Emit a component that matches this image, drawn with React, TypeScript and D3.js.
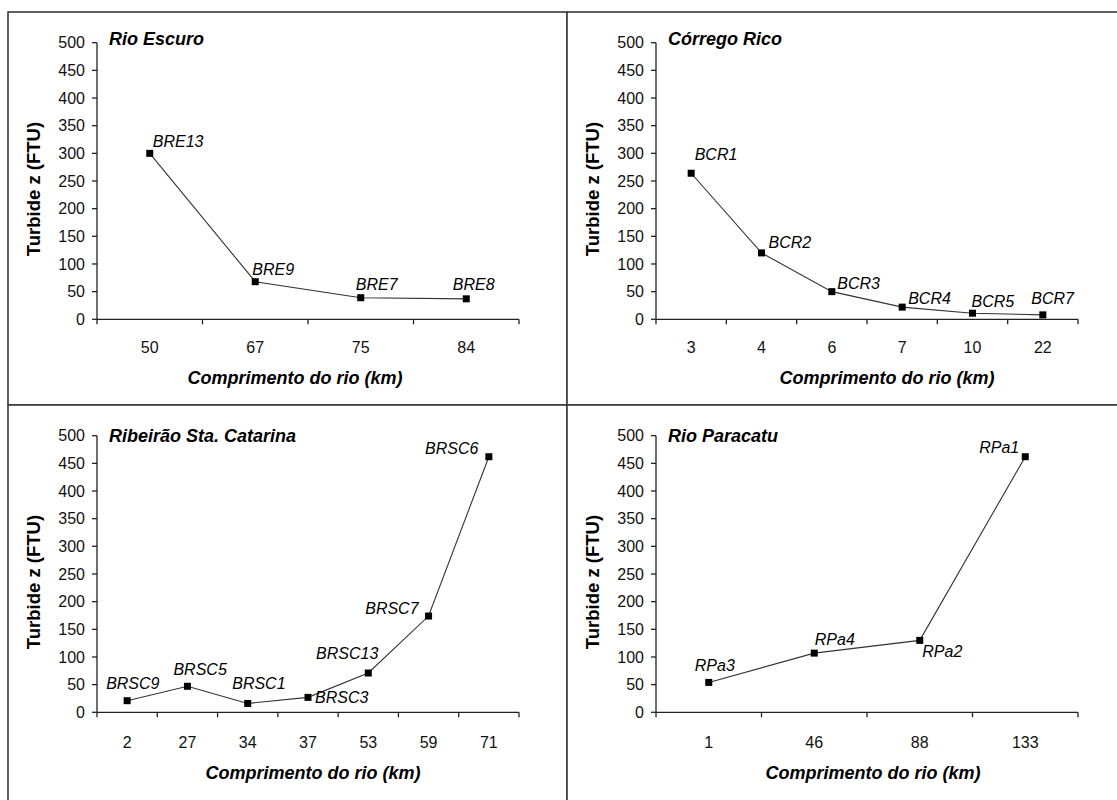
import React from 'react';
import * as d3 from 'd3';

// Turbidity (FTU) along the river length (km) at each sampling site
const escuroKm = ['50', '67', '75', '84'];
const escuroSites = ['BRE13', 'BRE9', 'BRE7', 'BRE8'];
const escuroTurbidity = [300, 68, 39, 37];

const ricoKm = ['3', '4', '6', '7', '10', '22'];
const ricoSites = ['BCR1', 'BCR2', 'BCR3', 'BCR4', 'BCR5', 'BCR7'];
const ricoTurbidity = [264, 120, 50, 22, 11, 8];

const catarinaKm = ['2', '27', '34', '37', '53', '59', '71'];
const catarinaSites = ['BRSC9', 'BRSC5', 'BRSC1', 'BRSC3', 'BRSC13', 'BRSC7', 'BRSC6'];
const catarinaTurbidity = [21, 47, 16, 27, 71, 174, 462];

const paracatuKm = ['1', '46', '88', '133'];
const paracatuSites = ['RPa3', 'RPa4', 'RPa2', 'RPa1'];
const paracatuTurbidity = [54, 107, 130, 462];

const yTicks = [0, 50, 100, 150, 200, 250, 300, 350, 400, 450, 500];
const yDomain: [number, number] = [0, 500];

const xTitle = 'Comprimento do rio (km)';
const yTitle = 'Turbide z (FTU)';

// Site label placement relative to its marker: [dx, dy, anchor]
type Place = [number, number, 'start' | 'end' | 'middle'];
const escuroPlace: Place[] = [[3, -6.5, 'start'], [-3, -6.5, 'start'], [-5, -7.5, 'start'], [-13.5, -8.5, 'start']];
const ricoPlace: Place[] = [[3.5, -13, 'start'], [7, -4.5, 'start'], [5.5, -3, 'start'], [6, -3, 'start'], [-1, -6, 'start'], [-11.5, -10.5, 'start']];
const catarinaPlace: Place[] = [[-21, -12, 'start'], [-14, -11.5, 'start'], [-15.5, -14.5, 'start'], [7, 6, 'start'], [10, -14, 'end'], [-10, -2, 'end'], [-10.5, -3, 'end']];
const paracatuPlace: Place[] = [[-14, -11, 'start'], [0.5, -8.5, 'start'], [2.5, 17, 'start'], [-6, -4, 'end']];

const FONT = '"Liberation Sans", Arial, Helvetica, sans-serif';

interface PanelProps {
  ox: number;
  oy: number;
  w: number;
  h: number;
  title: string;
  km: string[];
  sites: string[];
  values: number[];
  place: Place[];
  titleDy: number;
  xTitleDx: number;
  xTitleDy: number;
  tickDy: number;
}

function Panel(p: PanelProps) {
  const left = p.ox + 89;
  const right = p.ox + 511;
  const top = p.oy + 30.7;
  const bottom = p.oy + 307.3;

  const x = d3.scaleBand<string>().domain(p.km).range([left, right]).padding(0);
  const y = d3.scaleLinear().domain(yDomain).range([bottom, top]);
  const cx = (k: string) => (x(k) as number) + x.bandwidth() / 2;

  const pts: [number, number][] = p.km.map((k, i) => [cx(k), y(p.values[i])]);
  const line = d3.line<[number, number]>().x(d => d[0]).y(d => d[1]);

  const edges = p.km.map(k => x(k) as number).concat([right]);

  return (
    <g>
      <rect x={p.ox} y={p.oy} width={p.w} height={p.h} fill="#fff" stroke="#3a3a3a" strokeWidth={1.6} />

      {/* y axis */}
      <line x1={left} x2={left} y1={top} y2={bottom} stroke="#222" strokeWidth={1.3} />
      {yTicks.map(t => (
        <g key={'y' + t}>
          <line x1={left - 5} x2={left} y1={y(t)} y2={y(t)} stroke="#222" strokeWidth={1.3} />
          <text x={left - 12} y={y(t) + 5.7} textAnchor="end" fontSize={16} fontFamily={FONT} fill="#111">
            {t}
          </text>
        </g>
      ))}

      {/* x axis */}
      <line x1={left} x2={right} y1={bottom} y2={bottom} stroke="#222" strokeWidth={1.3} />
      {edges.map((e, i) => (
        <line key={'xt' + i} x1={e} x2={e} y1={bottom} y2={bottom + 5} stroke="#222" strokeWidth={1.3} />
      ))}
      {p.km.map(k => (
        <text key={'xl' + k} x={cx(k)} y={bottom + p.tickDy} textAnchor="middle" fontSize={16} fontFamily={FONT} fill="#111">
          {k}
        </text>
      ))}

      {/* axis titles */}
      <text
        x={(left + right) / 2 + p.xTitleDx}
        y={bottom + p.xTitleDy}
        textAnchor="middle"
        fontSize={18}
        fontWeight="bold"
        fontStyle="italic"
        fontFamily={FONT}
        fill="#000"
      >
        {xTitle}
      </text>
      <text
        transform={`translate(${left - 64},${(top + bottom) / 2 + 8}) rotate(-90)`}
        textAnchor="middle"
        dominantBaseline="central"
        fontSize={18.5}
        fontWeight="bold"
        fontFamily={FONT}
        fill="#000"
      >
        {yTitle}
      </text>

      {/* river name */}
      <text x={left + 12} y={top + p.titleDy} fontSize={18} fontWeight="bold" fontStyle="italic" fontFamily={FONT} fill="#000">
        {p.title}
      </text>

      {/* series */}
      <path d={line(pts) || ''} fill="none" stroke="#333" strokeWidth={1.1} />
      {pts.map((pt, i) => (
        <rect key={'m' + i} x={pt[0] - 3.5} y={pt[1] - 3.5} width={7} height={7} fill="#000" />
      ))}
      {pts.map((pt, i) => (
        <text
          key={'s' + i}
          x={pt[0] + p.place[i][0]}
          y={pt[1] + p.place[i][1]}
          textAnchor={p.place[i][2]}
          fontSize={16}
          fontStyle="italic"
          fontFamily={FONT}
          fill="#000"
        >
          {p.sites[i]}
        </text>
      ))}
    </g>
  );
}

export default function App() {
  return (
    <svg
      width={1117}
      height={800}
      style={{ position: 'absolute', left: 0, top: 0, background: '#fff' }}
    >
      <rect x={0} y={0} width={1117} height={800} fill="#fff" />
      <Panel ox={8} oy={12} w={559} h={393} title="Rio Escuro" km={escuroKm} sites={escuroSites}
        values={escuroTurbidity} place={escuroPlace} titleDy={2.5} xTitleDx={-13} xTitleDy={64.5} tickDy={34} />
      <Panel ox={567} oy={12} w={570} h={393} title="Córrego Rico" km={ricoKm} sites={ricoSites}
        values={ricoTurbidity} place={ricoPlace} titleDy={2.5} xTitleDx={20} xTitleDy={64.5} tickDy={34} />
      <Panel ox={8} oy={405} w={559} h={420} title="Ribeirão Sta. Catarina" km={catarinaKm} sites={catarinaSites}
        values={catarinaTurbidity} place={catarinaPlace} titleDy={6} xTitleDx={5} xTitleDy={67} tickDy={35.5} />
      <Panel ox={567} oy={405} w={570} h={420} title="Rio Paracatu" km={paracatuKm} sites={paracatuSites}
        values={paracatuTurbidity} place={paracatuPlace} titleDy={6} xTitleDx={6} xTitleDy={67} tickDy={35.5} />
    </svg>
  );
}
